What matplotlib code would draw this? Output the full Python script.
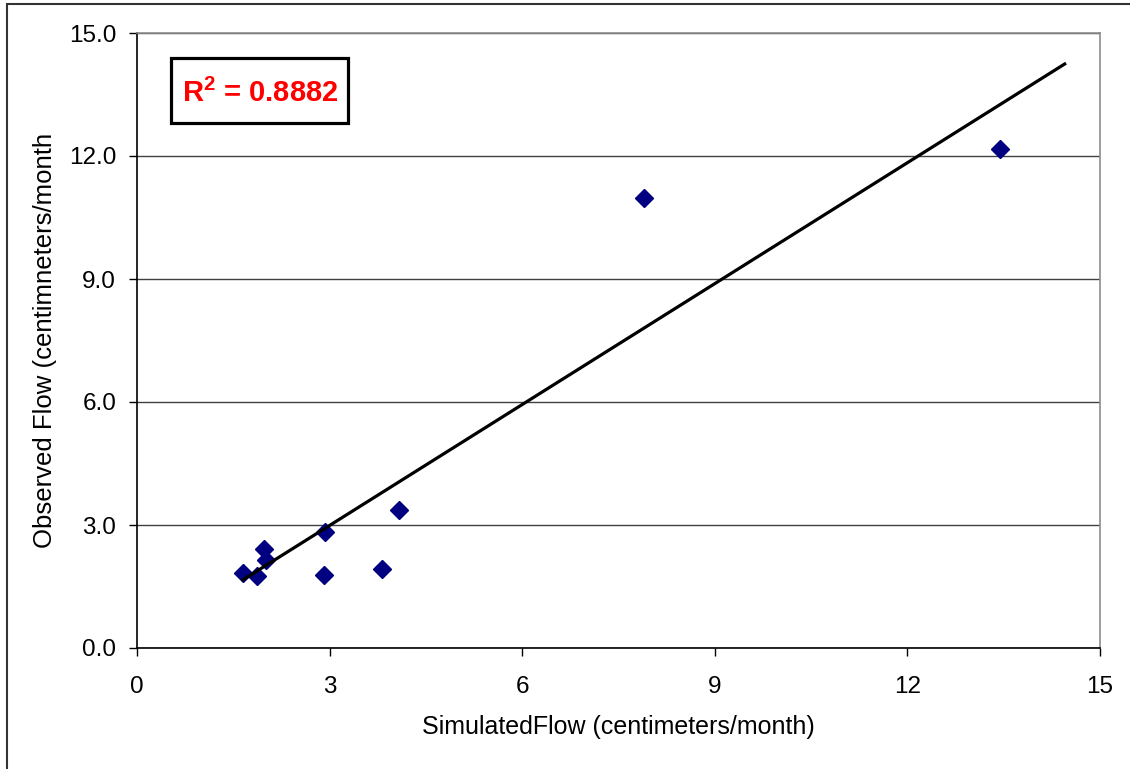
import matplotlib
matplotlib.use("Agg")
import matplotlib.pyplot as plt
from matplotlib.patches import Rectangle

plt.rcParams['font.family'] = ['Liberation Sans', 'DejaVu Sans']
plt.rcParams['mathtext.fontset'] = 'custom'
plt.rcParams['mathtext.rm'] = 'Liberation Sans'
plt.rcParams['mathtext.bf'] = 'Liberation Sans:bold'

# Monthly flow: simulated vs observed (cm/month)
simulated = [1.65, 1.87, 1.98, 2.01, 2.93, 2.91, 3.82, 4.08, 7.90, 13.44]
observed = [1.83, 1.76, 2.42, 2.15, 2.83, 1.78, 1.93, 3.37, 10.98, 12.18]

# linear trend line (observed = slope * simulated + intercept)
trend_slope = 0.983
trend_intercept = 0.04
trend_x = [1.65, 14.45]
r_squared_label = r"$\mathbf{R}^{\mathbf{2}}$ = 0.8882"

x_ticks = [0, 3, 6, 9, 12, 15]
y_ticks = [0.0, 3.0, 6.0, 9.0, 12.0, 15.0]

W, H = 1130, 769
fig = plt.figure(figsize=(W / 100, H / 100), dpi=100)
ax = fig.add_axes([137 / W, 1 - 648 / H, (1100 - 137) / W, (648 - 33) / H])

# outer chart frame
fig.patches.append(Rectangle((7 / W, -0.05), 1.1, 1 - 4 / H + 0.05,
                             transform=fig.transFigure, fill=False,
                             edgecolor='#333333', linewidth=1.5, zorder=0))

ax.set_xlim(0, 15)
ax.set_ylim(0, 15)
ax.set_xticks(x_ticks)
ax.set_yticks(y_ticks)
ax.set_xticklabels([str(t) for t in x_ticks])
ax.set_yticklabels([f"{t:.1f}" for t in y_ticks])
ax.tick_params(axis='both', direction='out', length=6, width=1, labelsize=17.5,
               colors='black')
ax.tick_params(axis='y', pad=9)
ax.tick_params(axis='x', pad=14)

ax.yaxis.grid(True, color='#404040', linewidth=1)
ax.set_axisbelow(True)

for side in ('left', 'bottom'):
    ax.spines[side].set_color('black')
    ax.spines[side].set_linewidth(1.2)
for side in ('top', 'right'):
    ax.spines[side].set_color('#8c8c8c')
    ax.spines[side].set_linewidth(1.2)

ax.plot(simulated, observed, linestyle='none', marker='D', markersize=9,
        color='#000080', markeredgecolor='#000080', zorder=3)

ax.plot(trend_x, [trend_slope * v + trend_intercept for v in trend_x],
        color='black', linewidth=2.3, zorder=4)

ax.set_xlabel("SimulatedFlow (centimeters/month)", fontsize=18, va='center')
ax.xaxis.set_label_coords(0.5, -(727 - 648) / 615)
ax.set_ylabel("Observed Flow (centimneters/month", fontsize=18.5,
              va='center', ha='center')
ax.yaxis.set_label_coords(-(137 - 45) / 963, 0.5)

# R-squared box
fig.patches.append(Rectangle((171 / W, 1 - 123 / H), (348 - 171) / W, (123 - 58) / H,
                             transform=fig.transFigure, facecolor='white',
                             edgecolor='black', linewidth=2.3, zorder=5))
fig.text(260 / W, 1 - 93 / H, r_squared_label, color='#ff0000',
         fontsize=21, fontweight='bold', ha='center', va='center', zorder=6)

fig.savefig("out.png", dpi=100)
